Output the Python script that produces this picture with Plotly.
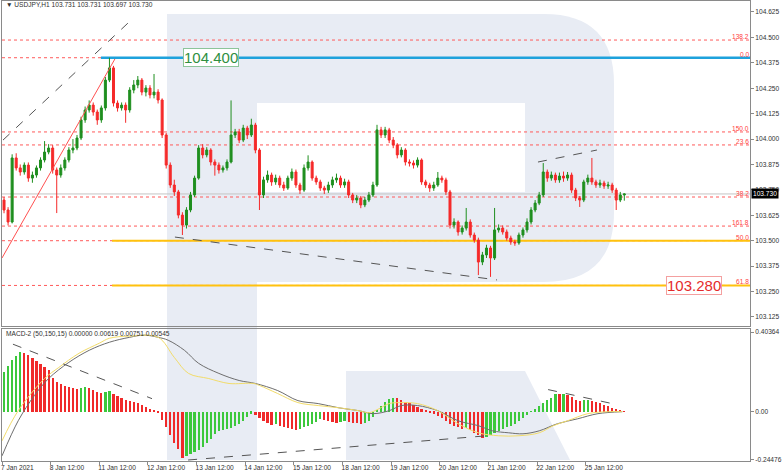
import plotly.graph_objects as go

# ---------------- data ----------------
first_open = 103.700
closes = [
103.651, 103.592, 103.907, 103.858, 103.838, 103.872, 103.808, 103.823, 103.858, 103.897,
103.936, 103.956, 103.848, 103.823, 103.858, 103.897, 103.946, 103.956, 104.005, 104.094,
104.143, 104.167, 104.133, 104.094, 104.153, 104.290, 104.350, 104.177, 104.153, 104.167,
104.143, 104.241, 104.266, 104.290, 104.231, 104.251, 104.217, 104.231, 104.192, 104.020,
103.872, 103.774, 103.740, 103.626, 103.577, 103.651, 103.725, 103.808, 103.956, 103.922,
103.946, 103.887, 103.872, 103.848, 103.858, 103.887, 104.020, 104.035, 103.995, 104.054,
104.020, 104.069, 103.946, 103.725, 103.799, 103.823, 103.789, 103.808, 103.774, 103.759,
103.808, 103.838, 103.774, 103.749, 103.858, 103.887, 103.808, 103.789, 103.759, 103.749,
103.774, 103.799, 103.808, 103.774, 103.789, 103.725, 103.700, 103.710, 103.676, 103.700,
103.725, 103.774, 104.045, 104.020, 104.045, 103.995, 103.971, 103.922, 103.946, 103.887,
103.882, 103.872, 103.897, 103.789, 103.774, 103.759, 103.774, 103.808, 103.799, 103.740,
103.577, 103.592, 103.543, 103.562, 103.592, 103.528, 103.503, 103.395, 103.430, 103.464,
103.415, 103.553, 103.562, 103.543, 103.513, 103.494, 103.489, 103.528, 103.553, 103.592,
103.651, 103.685, 103.725, 103.838, 103.808, 103.823, 103.799, 103.818, 103.808, 103.823,
103.749, 103.710, 103.700, 103.789, 103.808, 103.789, 103.774, 103.784, 103.769, 103.774,
103.749, 103.700, 103.725, 103.730]
highs = [
103.715, 103.665, 103.925, 103.930, 103.875, 103.885, 103.885, 103.840, 103.870, 103.910,
103.990, 103.975, 103.970, 103.860, 103.875, 103.910, 103.960, 104.000, 104.020, 104.110,
104.160, 104.190, 104.180, 104.145, 104.165, 104.305, 104.400, 104.360, 104.190, 104.180,
104.180, 104.255, 104.290, 104.310, 104.300, 104.265, 104.265, 104.320, 104.245, 104.200,
104.030, 103.885, 103.800, 103.750, 103.640, 103.665, 103.740, 103.820, 103.970, 103.975,
103.960, 103.955, 103.900, 103.885, 103.870, 103.900, 104.190, 104.050, 104.050, 104.070,
104.065, 104.100, 104.080, 103.955, 103.815, 103.845, 103.835, 103.825, 103.820, 103.790,
103.820, 103.855, 103.850, 103.785, 103.875, 103.920, 103.895, 103.820, 103.800, 103.770,
103.790, 103.815, 103.830, 103.820, 103.805, 103.800, 103.735, 103.725, 103.720, 103.715,
103.740, 103.790, 104.070, 104.060, 104.060, 104.055, 104.010, 103.980, 103.960, 103.955,
103.900, 103.895, 103.910, 103.905, 103.800, 103.785, 103.790, 103.838, 103.820, 103.810,
103.750, 103.610, 103.600, 103.575, 103.661, 103.605, 103.540, 103.515, 103.445, 103.480,
103.475, 103.661, 103.580, 103.575, 103.555, 103.525, 103.505, 103.540, 103.565, 103.610,
103.665, 103.700, 103.740, 103.882, 103.850, 103.840, 103.835, 103.835, 103.840, 103.838,
103.835, 103.760, 103.720, 103.800, 103.825, 103.907, 103.800, 103.800, 103.795, 103.790,
103.785, 103.760, 103.740, 103.731]
lows = [
103.635, 103.575, 103.585, 103.845, 103.820, 103.825, 103.790, 103.785, 103.810, 103.845,
103.885, 103.925, 103.830, 103.636, 103.810, 103.845, 103.885, 103.930, 103.945, 103.995,
104.080, 104.130, 104.115, 104.070, 104.080, 104.140, 104.280, 104.160, 104.135, 104.140,
104.080, 104.130, 104.225, 104.250, 104.215, 104.210, 104.200, 104.200, 104.175, 104.005,
103.855, 103.760, 103.720, 103.610, 103.528, 103.560, 103.640, 103.715, 103.800, 103.905,
103.910, 103.870, 103.820, 103.830, 103.835, 103.845, 103.880, 104.005, 103.980, 103.985,
104.000, 104.010, 103.930, 103.651, 103.710, 103.785, 103.770, 103.775, 103.760, 103.745,
103.750, 103.795, 103.760, 103.730, 103.740, 103.845, 103.795, 103.775, 103.745, 103.730,
103.735, 103.760, 103.785, 103.760, 103.760, 103.710, 103.685, 103.685, 103.660, 103.665,
103.690, 103.715, 103.765, 104.005, 104.005, 103.980, 103.955, 103.905, 103.910, 103.870,
103.865, 103.855, 103.860, 103.775, 103.760, 103.740, 103.745, 103.765, 103.785, 103.725,
103.560, 103.560, 103.525, 103.530, 103.550, 103.515, 103.490, 103.331, 103.380, 103.415,
103.322, 103.405, 103.540, 103.530, 103.500, 103.480, 103.475, 103.480, 103.515, 103.540,
103.580, 103.640, 103.675, 103.715, 103.790, 103.795, 103.785, 103.785, 103.790, 103.795,
103.735, 103.695, 103.666, 103.690, 103.775, 103.775, 103.760, 103.760, 103.755, 103.755,
103.735, 103.651, 103.690, 103.697]

macd_hist = [
0.20, 0.23, 0.26, 0.28, 0.30, 0.295, 0.285, 0.27, 0.255, 0.24,
0.225, 0.21, 0.17, 0.15, 0.14, 0.13, 0.125, 0.12, 0.115, 0.12,
0.125, 0.12, 0.11, 0.10, 0.095, 0.10, 0.105, 0.09, 0.08, 0.07,
0.06, 0.055, 0.05, 0.045, 0.035, 0.025, 0.015, 0.01, -0.005, -0.04,
-0.08, -0.12, -0.16, -0.19, -0.235, -0.225, -0.215, -0.205, -0.195, -0.18,
-0.16, -0.14, -0.115, -0.10, -0.095, -0.09, -0.085, -0.075, -0.06, -0.045,
-0.025, -0.01, -0.015, -0.03, -0.045, -0.055, -0.065, -0.06, -0.07, -0.08,
-0.085, -0.09, -0.092, -0.088, -0.08, -0.07, -0.06, -0.05, -0.035, -0.04,
-0.045, -0.05, -0.055, -0.05, -0.045, -0.05, -0.055, -0.057, -0.06, -0.055,
-0.045, -0.025, 0.005, 0.03, 0.05, 0.065, 0.07, 0.068, 0.06, 0.05,
0.045, 0.035, 0.025, 0.015, 0.005, -0.005, -0.01, -0.02, -0.03, -0.045,
-0.06, -0.07, -0.08, -0.09, -0.085, -0.095, -0.11, -0.12, -0.135, -0.13,
-0.12, -0.11, -0.10, -0.09, -0.08, -0.07, -0.06, -0.045, -0.03, -0.015,
0.002, 0.015, 0.03, 0.045, 0.06, 0.07, 0.09, 0.088, 0.092, 0.085,
0.075, 0.06, 0.055, 0.058, 0.06, 0.055, 0.05, 0.045, 0.035, 0.028,
0.02, 0.012, 0.006, 0.002]

gray_x = [0, 8, 16, 23, 33, 43, 53, 63, 70, 77, 82, 90, 97, 107, 117, 125, 136, 146, 156,
          166, 176, 183, 191, 197, 205, 215, 225, 235, 242, 250, 257, 265, 274, 284, 294, 306]
gray_v = [-0.224, -0.046, 0.082, 0.168, 0.25, 0.311, 0.352, 0.377, 0.388, 0.377, 0.362, 0.311,
          0.245, 0.194, 0.158, 0.143, 0.107, 0.056, 0.041, 0.020, 0.005, -0.010, 0.005, 0.031,
          0.031, 0.005, -0.046, -0.071, -0.097, -0.107, -0.112, -0.097, -0.061, -0.036, -0.010, 0.0]
yel_x = [0, 8, 21, 28, 38, 48, 53, 63, 77, 85, 92, 102, 112, 124, 127, 136, 146, 156, 166, 176,
         181, 186, 191, 196, 205, 215, 225, 235, 245, 255, 265, 272, 279, 289, 299, 306]
yel_v = [-0.148, 0.005, 0.168, 0.224, 0.296, 0.347, 0.372, 0.383, 0.377, 0.275, 0.194, 0.168,
         0.143, 0.143, 0.133, 0.092, 0.046, 0.031, 0.020, 0.005, -0.005, 0.015, 0.041, 0.046,
         0.041, 0.005, -0.061, -0.107, -0.122, -0.122, -0.107, -0.071, -0.046, -0.010, 0.0, 0.0]

price_ticks = [103.125, 103.250, 103.375, 103.500, 103.625, 103.750, 103.875,
               104.000, 104.125, 104.250, 104.375, 104.500, 104.625]
macd_ticks = [-0.24476, 0.0, 0.40364]
macd_tick_text = ["-0.24476", "0.00", "0.40364"]
time_ticks = [0, 24, 48, 72, 96, 120, 144, 168, 192, 216, 240, 264, 288]
time_labels = ["7 Jan 2021", "8 Jan 12:00", "11 Jan 12:00", "12 Jan 12:00", "13 Jan 12:00",
               "14 Jan 12:00", "15 Jan 12:00", "18 Jan 12:00", "19 Jan 12:00", "20 Jan 12:00",
               "21 Jan 12:00", "22 Jan 12:00", "25 Jan 12:00"]

fib_levels = [104.487, 104.400, 104.035, 103.971, 103.715, 103.572, 103.500, 103.280]
fib_labels = ["138.2", "0.0", "150.0", "23.6", "38.2", "161.8", "50.0", "61.8"]
level_high = 104.400
level_mid = 103.500
level_low = 103.280
last_price = 103.730

# ---------------- derived ----------------
xs = [1 + 2 * i for i in range(len(closes))]
opens = [first_open] + closes[:-1]
hist_colors = []
for i, v in enumerate(macd_hist):
    up = i == 0 or v >= macd_hist[i - 1]
    hist_colors.append("#3cc83c" if up else "#f02a2a")

W, H = 782, 475
ML, MR, MT, MB = 2, 32, 1, 14
PW, PH = W - ML - MR, H - MT - MB
FS = 6.6


def X(px):
    return (px - ML) / PW


def Y(py):
    return 1 - (py - MT) / PH


fig = go.Figure()
fig.add_trace(go.Candlestick(
    x=xs, open=opens, high=highs, low=lows, close=closes,
    xaxis="x", yaxis="y", whiskerwidth=0, showlegend=False,
    increasing=dict(line=dict(color="#1f8f1f", width=1), fillcolor="#1f8f1f"),
    decreasing=dict(line=dict(color="#f52a2a", width=1), fillcolor="#f52a2a"),
))
fig.add_trace(go.Bar(x=xs, y=macd_hist, marker_color=hist_colors, marker_line_width=0,
                     width=1.1, xaxis="x2", yaxis="y2", showlegend=False))
fig.add_trace(go.Scatter(x=gray_x, y=gray_v, mode="lines", line=dict(color="#6e6e6e", width=1, shape="spline"),
                         xaxis="x2", yaxis="y2", showlegend=False))
fig.add_trace(go.Scatter(x=yel_x, y=yel_v, mode="lines", line=dict(color="#f2dc6a", width=1, shape="spline"),
                         xaxis="x2", yaxis="y2", showlegend=False))

shapes = []
wm = "#e8ecf4"
# watermark logo
r = 70
bowl = (f"M {X(167)},{Y(14)} L {X(614-r)},{Y(14)} Q {X(614)},{Y(14)} {X(614)},{Y(14+r)} "
        f"L {X(614)},{Y(282-r)} Q {X(614)},{Y(282)} {X(614-r)},{Y(282)} L {X(167)},{Y(282)} Z")
shapes.append(dict(type="path", xref="paper", yref="paper", path=bowl, fillcolor=wm, line=dict(width=0), layer="below"))
shapes.append(dict(type="rect", xref="paper", yref="paper", x0=X(167), x1=X(257), y0=Y(460), y1=Y(14),
                   fillcolor=wm, line=dict(width=0), layer="below"))
shapes.append(dict(type="rect", xref="paper", yref="paper", x0=X(257), x1=X(525), y0=Y(192), y1=Y(103),
                   fillcolor="white", line=dict(width=0), layer="below"))
leg = f"M {X(346)},{Y(371)} L {X(525)},{Y(371)} L {X(570)},{Y(460)} L {X(346)},{Y(460)} Z"
shapes.append(dict(type="path", xref="paper", yref="paper", path=leg, fillcolor=wm, line=dict(width=0), layer="below"))

# current price line
shapes.append(dict(type="line", xref="paper", yref="y", x0=0, x1=1, y0=last_price, y1=last_price,
                   line=dict(color="#c4c4c4", width=1), layer="below"))
# blue & yellow levels
shapes.append(dict(type="line", xref="x", yref="y", x0=48.8, x1=369, y0=level_high, y1=level_high,
                   line=dict(color="#1ea2dc", width=2.5), layer="below"))
for lv in (level_mid, level_low):
    shapes.append(dict(type="line", xref="x", yref="y", x0=54.3, x1=369, y0=lv, y1=lv,
                       line=dict(color="#ffc20e", width=2), layer="below"))
# fib dotted lines
for lv in fib_levels:
    shapes.append(dict(type="line", xref="paper", yref="y", x0=0, x1=1, y0=lv, y1=lv,
                       line=dict(color="#ff5a5a", width=1, dash="dot"), layer="below"))
# trend lines main
dash = dict(color="#555555", width=1, dash="dash")
shapes.append(dict(type="line", xref="x", yref="y", x0=0.5, y0=103.995, x1=62.2, y1=104.571, line=dash))
shapes.append(dict(type="line", xref="x", yref="y", x0=0, y0=103.415, x1=55.7, y1=104.394,
                   line=dict(color="#ff5050", width=1)))
shapes.append(dict(type="line", xref="x", yref="y", x0=85.3, y0=103.518, x1=244.2, y1=103.307, line=dash))
shapes.append(dict(type="line", xref="x", yref="y", x0=264.4, y0=103.887, x1=293.5, y1=103.946, line=dash))
# trend lines macd
shapes.append(dict(type="line", xref="x2", yref="y2", x0=5.4, y0=0.342, x1=74, y1=0.066, line=dash))
shapes.append(dict(type="line", xref="x2", yref="y2", x0=91.8, y0=-0.245, x1=239.3, y1=-0.122, line=dash))
shapes.append(dict(type="line", xref="x2", yref="y2", x0=269.4, y0=0.112, x1=301, y1=0.041, line=dash))

annotations = []
for lv, lab in zip(fib_levels, fib_labels):
    annotations.append(dict(xref="paper", yref="y", x=1, y=lv, text=lab, showarrow=False,
                            xanchor="right", yanchor="bottom", font=dict(size=FS, color="#ff4040"),
                            borderpad=0, yshift=-1))
annotations.append(dict(xref="x", yref="y", x=103, y=level_high, text="104.400", showarrow=False,
                        font=dict(size=15, color="#2f8f3f"), bgcolor="white", bordercolor="#8cc59a",
                        borderwidth=1, borderpad=0))
annotations.append(dict(xref="x", yref="y", x=341.4, y=level_low, text="103.280", showarrow=False,
                        font=dict(size=15, color="#e52b2b"), bgcolor="white", bordercolor="#f4a0a0",
                        borderwidth=1, borderpad=0))
annotations.append(dict(xref="paper", yref="y", x=1, y=last_price, text="103.730", showarrow=False,
                        xanchor="left", xshift=1, font=dict(size=FS, color="white"), bgcolor="black",
                        borderpad=1))
annotations.append(dict(xref="paper", yref="paper", x=X(4), y=Y(5), text="▼ USDJPY,H1 103.731 103.731 103.697 103.730",
                        showarrow=False, xanchor="left", yanchor="middle", font=dict(size=FS, color="#303030")))
annotations.append(dict(xref="paper", yref="paper", x=X(4), y=Y(334),
                        text="MACD-2 (50,150,15) 0.00000 0.00619 0.00751 0.00545",
                        showarrow=False, xanchor="left", yanchor="middle", font=dict(size=FS, color="#303030")))

axis_common = dict(showgrid=False, zeroline=False, showline=True, mirror=True, linecolor="#8a8a8a",
                   linewidth=1, automargin=False)
main_top, main_bot = 1, 326
macd_top, macd_bot = 329, 460

fig.update_layout(
    width=W, height=H, margin=dict(l=ML, r=MR, t=MT, b=MB, autoexpand=False),
    paper_bgcolor="white", plot_bgcolor="rgba(0,0,0,0)",
    font=dict(family="Liberation Sans, Arial, sans-serif", size=FS, color="#303030"),
    hovermode=False, showlegend=False, bargap=0,
    xaxis=dict(domain=[0, 1], range=[0, 369], anchor="y", showticklabels=False, ticks="",
               rangeslider=dict(visible=False), **axis_common),
    yaxis=dict(domain=[Y(main_bot), Y(main_top)], range=[103.0805, 104.679], side="right", anchor="x",
               tickvals=price_ticks, ticktext=[f"{v:.3f}" for v in price_ticks],
               ticks="outside", ticklen=3, tickcolor="#8a8a8a", tickfont=dict(size=FS, color="#303030"),
               **axis_common),
    xaxis2=dict(domain=[0, 1], range=[0, 369], anchor="y2", matches="x", tickangle=0,
                tickvals=time_ticks, ticktext=time_labels, ticks="outside", ticklen=3, tickcolor="#8a8a8a",
                ticklabelposition="outside right", ticklabelshift=-2, ticklabeloverflow="allow",
                tickfont=dict(size=FS, color="#303030"), **axis_common),
    yaxis2=dict(domain=[0, Y(macd_top)], range=[-0.2499, 0.4190], side="right", anchor="x2",
                tickvals=macd_ticks, ticktext=macd_tick_text, ticks="outside", ticklen=3, tickcolor="#8a8a8a",
                tickfont=dict(size=FS, color="#303030"), **axis_common),
    shapes=shapes, annotations=annotations,
)

fig.write_html("out.html", config={"displayModeBar": False},
               post_script="document.body.style.margin='0';document.body.style.overflow='hidden';")
